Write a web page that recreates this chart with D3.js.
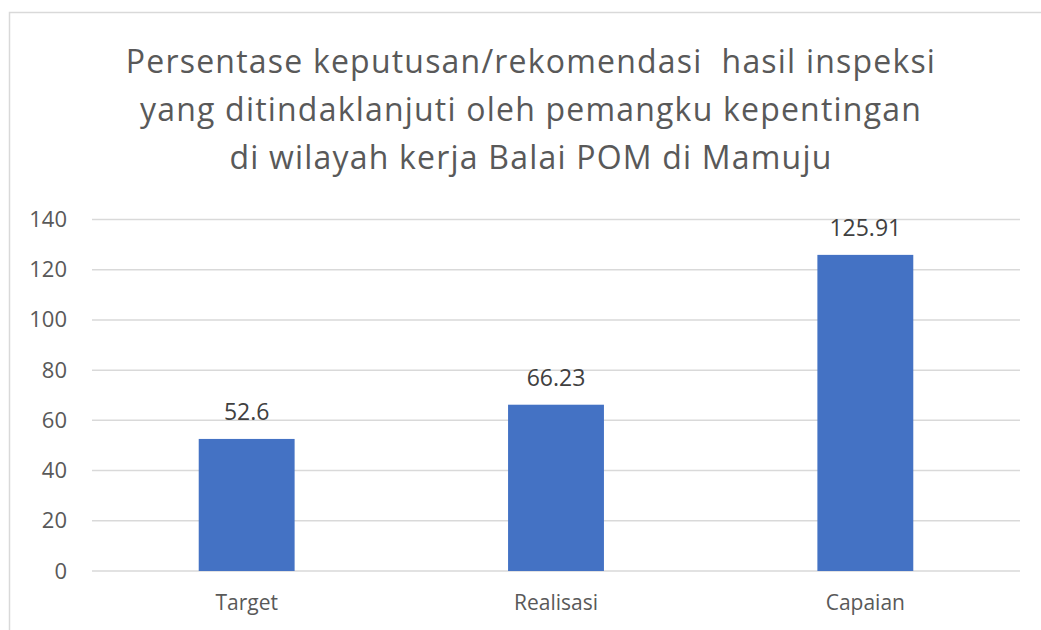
<!DOCTYPE html>
<html>
<head>
<meta charset="utf-8">
<script src="https://cdn.jsdelivr.net/npm/d3@7"></script>
<style>
  body { margin: 0; background: #fff; }
  text { font-family: "Open Sans", Lato, sans-serif; }
</style>
</head>
<body>
<div id="chart"></div>
<script>
const categories = ['Target', 'Realisasi', 'Capaian'];
const values = [52.6, 66.23, 125.91];
const valueLabels = ['52.6', '66.23', '125.91'];
const yTicks = [0, 20, 40, 60, 80, 100, 120, 140];
const titleLines = [
  'Persentase keputusan/rekomendasi  hasil inspeksi',
  'yang ditindaklanjuti oleh pemangku kepentingan',
  'di wilayah kerja Balai POM di Mamuju'
];

const width = 1041, height = 630;
const margin = { top: 219.5, right: 21, bottom: 59, left: 92 };

const svg = d3.select('#chart')
  .append('svg')
  .attr('width', width)
  .attr('height', height);

// chart frame (only top/left visible in the crop)
svg.append('rect')
  .attr('x', 9.5).attr('y', 12.5)
  .attr('width', 1200).attr('height', 800)
  .attr('fill', 'none')
  .attr('stroke', '#d9d9d9')
  .attr('stroke-width', 1.5);

svg.append('text')
  .attr('text-anchor', 'middle')
  .attr('fill', '#595959')
  .style('font-size', '32px')
  .style('letter-spacing', '1.2px')
  .style('white-space', 'pre')
  .selectAll('tspan')
  .data(titleLines)
  .enter().append('tspan')
  .attr('x', 531)
  .attr('y', (d, i) => 73 + i * 48)
  .text(d => d);

const x = d3.scaleBand()
  .domain(categories)
  .range([margin.left, width - margin.right])
  .paddingInner(0.69)
  .paddingOuter(0.345);

const y = d3.scaleLinear()
  .domain([0, 140])
  .range([height - margin.bottom, margin.top]);

// gridlines
svg.append('g')
  .selectAll('line')
  .data(yTicks)
  .enter().append('line')
  .attr('x1', margin.left)
  .attr('x2', width - margin.right)
  .attr('y1', d => y(d))
  .attr('y2', d => y(d))
  .attr('stroke', '#d9d9d9')
  .attr('stroke-width', 1.5);

// y axis labels
const yAxis = svg.append('g')
  .attr('transform', `translate(${margin.left},0)`)
  .call(d3.axisLeft(y).tickValues(yTicks).tickSize(0).tickPadding(25));
yAxis.select('.domain').remove();
yAxis.selectAll('text')
  .attr('fill', '#595959')
  .style('font-family', '"Open Sans", sans-serif')
  .style('font-size', '22px');

// x axis labels
const xAxis = svg.append('g')
  .attr('transform', `translate(0,${height - margin.bottom})`)
  .call(d3.axisBottom(x).tickSize(0).tickPadding(24));
xAxis.select('.domain').remove();
xAxis.selectAll('text')
  .attr('fill', '#595959')
  .style('font-family', '"Open Sans", sans-serif')
  .style('font-size', '21px');

const data = categories.map((c, i) => ({ category: c, value: values[i], label: valueLabels[i] }));

svg.append('g')
  .selectAll('rect')
  .data(data)
  .enter().append('rect')
  .attr('x', d => x(d.category))
  .attr('y', d => y(d.value))
  .attr('width', x.bandwidth())
  .attr('height', d => y(0) - y(d.value))
  .attr('fill', '#4472c4');

svg.append('g')
  .selectAll('text')
  .data(data)
  .enter().append('text')
  .attr('text-anchor', 'middle')
  .attr('x', d => x(d.category) + x.bandwidth() / 2)
  .attr('y', d => y(d.value) - 19)
  .attr('fill', '#404040')
  .style('font-size', '23px')
  .text(d => d.label);
</script>
</body>
</html>
